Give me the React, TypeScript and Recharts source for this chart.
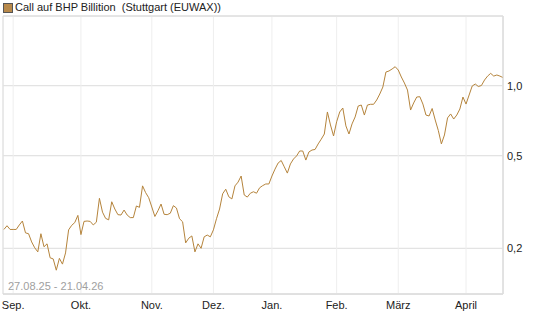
import React from "react";
import {
  LineChart,
  Line,
  XAxis,
  YAxis,
  CartesianGrid,
  ReferenceArea,
} from "recharts";

const prices: number[] = [
  0.241, 0.25, 0.241, 0.241, 0.241, 0.252, 0.262, 0.233, 0.231, 0.213,
  0.201, 0.193, 0.231, 0.203, 0.209, 0.182, 0.18, 0.161, 0.181, 0.171,
  0.191, 0.24, 0.251, 0.258, 0.277, 0.229, 0.261, 0.262, 0.261, 0.252,
  0.259, 0.328, 0.286, 0.269, 0.265, 0.317, 0.295, 0.279, 0.278, 0.292,
  0.278, 0.271, 0.271, 0.304, 0.3, 0.371, 0.347, 0.33, 0.301, 0.274,
  0.29, 0.31, 0.28, 0.279, 0.283, 0.305, 0.298, 0.268, 0.26, 0.211,
  0.221, 0.226, 0.193, 0.209, 0.2, 0.224, 0.228, 0.224, 0.24, 0.268,
  0.295, 0.343, 0.359, 0.333, 0.326, 0.371, 0.385, 0.409, 0.339, 0.332,
  0.345, 0.35, 0.345, 0.364, 0.372, 0.378, 0.378, 0.409, 0.438, 0.465,
  0.477, 0.448, 0.421, 0.461, 0.484, 0.499, 0.524, 0.524, 0.479, 0.519,
  0.529, 0.532, 0.562, 0.589, 0.62, 0.771, 0.678, 0.608, 0.7, 0.771,
  0.802, 0.672, 0.62, 0.685, 0.734, 0.818, 0.826, 0.748, 0.826, 0.832,
  0.832, 0.868, 0.921, 0.987, 1.145, 1.157, 1.18, 1.207, 1.168, 1.09,
  1.027, 0.958, 0.786, 0.843, 0.894, 0.897, 0.834, 0.748, 0.741, 0.798,
  0.712, 0.642, 0.562, 0.614, 0.727, 0.756, 0.719, 0.748, 0.794, 0.894,
  0.834, 0.912, 0.997, 1.017, 0.992, 1.002, 1.058, 1.1, 1.13, 1.1,
  1.112, 1.1, 1.084,
];

const monthTickIndex: number[] = [3, 25, 48, 68, 87, 108, 128, 150];
const monthLabels: string[] = ["Sep.", "Okt.", "Nov.", "Dez.", "Jan.", "Feb.", "März", "April"];
const yTicks: number[] = [0.2, 0.5, 1.0];

const seriesName = "Call auf BHP Billition  (Stuttgart (EUWAX))";
const rangeLabel = "27.08.25 - 21.04.26";

const data = prices.map((v, i) => ({ i, v }));

const FONT = '"Liberation Sans", Arial, sans-serif';
const LINE_COLOR = "#b5843c";

export default function App() {
  const yDomain: [number, number] = [0.1272, 1.994];
  const xDomain: [number, number] = [-0.3, 162];
  return (
    <div
      style={{
        position: "absolute",
        left: 0,
        top: 0,
        width: 545,
        height: 327,
        background: "#fff",
        fontFamily: FONT,
      }}
    >
      <div
        style={{
          position: "absolute",
          left: 3,
          top: 3,
          width: 8,
          height: 8,
          background: "#b8894a",
          border: "1px solid #555",
        }}
      />
      <div
        style={{
          position: "absolute",
          left: 15,
          top: 1,
          fontSize: 11,
          lineHeight: "13px",
          color: "#222",
          whiteSpace: "pre",
        }}
      >
        {seriesName}
      </div>
      <LineChart
        width={545}
        height={327}
        data={data}
        margin={{ top: 16, right: 0, left: 3, bottom: 13 }}
      >
        <CartesianGrid vertical={false} stroke="#dcdcdc" strokeWidth={1} />
        <CartesianGrid horizontal={false} stroke="#eeeeee" strokeWidth={1} />
        <ReferenceArea
          x1={xDomain[0]}
          x2={xDomain[1]}
          y1={yDomain[0]}
          y2={yDomain[1]}
          fill="none"
          stroke="#dcdcdc"
          strokeWidth={1}
          ifOverflow="extendDomain"
        />
        <XAxis
          dataKey="i"
          type="number"
          domain={xDomain}
          ticks={monthTickIndex}
          tickFormatter={(v: number) => monthLabels[monthTickIndex.indexOf(v)] ?? ""}
          interval={0}
          tickLine={false}
          tickSize={0}
          tickMargin={7}
          axisLine={{ stroke: "#dcdcdc" }}
          height={20}
          allowDataOverflow
          tick={{ fontSize: 11, fill: "#222", fontFamily: FONT }}
        />
        <YAxis
          orientation="right"
          scale="log"
          type="number"
          domain={yDomain}
          ticks={yTicks}
          allowDataOverflow
          interval={0}
          tickLine={false}
          tickSize={0}
          tickMargin={4}
          width={42}
          axisLine={{ stroke: "#dcdcdc" }}
          tickFormatter={(v: number) => v.toFixed(1).replace(".", ",")}
          tick={{ fontSize: 11, fill: "#222", fontFamily: FONT, textAnchor: "start" }}
        />
        <Line
          type="linear"
          dataKey="v"
          stroke={LINE_COLOR}
          strokeWidth={1}
          dot={false}
          isAnimationActive={false}
        />
      </LineChart>
      <div
        style={{
          position: "absolute",
          left: 8,
          top: 280,
          fontSize: 11,
          lineHeight: "13px",
          color: "#a0a0a0",
          whiteSpace: "pre",
        }}
      >
        {rangeLabel}
      </div>
    </div>
  );
}
